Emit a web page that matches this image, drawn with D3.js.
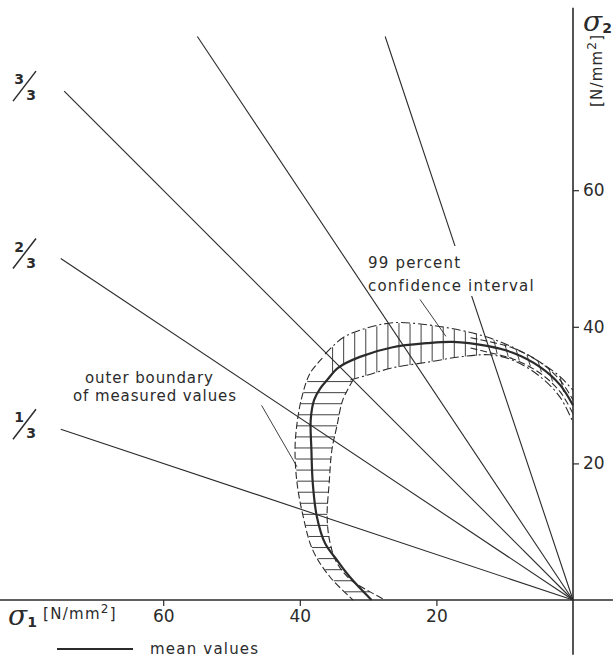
<!DOCTYPE html>
<html><head><meta charset="utf-8">
<script src="https://cdn.jsdelivr.net/npm/d3@7"></script>
<style>
html,body{margin:0;padding:0;background:#fff;}
text{font-family:"DejaVu Sans",sans-serif;fill:#2b2b2b;}
</style></head>
<body>
<svg id="c" width="613" height="661"></svg>
<script>
// ---- data (σ1, σ2 in N/mm²) ----
const rayLabels = ["1/3","2/3","3/3","3/2","3/1"];
const rayEndS1 = [75, 75, 74.5, 55, 27.5];
const rayEndS2 = [25, 50, 74.5, 82.5, 82.5];

const meanS1 = [29.5,32.7,34.6,36.3,37.5,38.1,38.3,38.4,37.9,37.0,36.0,34.4,31.2,26.4,21.4,17.6,12.6,8.8,4.8,1.9,0];
const meanS2 = [0,3.4,5.9,8.3,12.2,17.1,22.0,26.4,29.3,31.0,32.2,34.0,35.6,37.0,37.6,37.8,37.2,36.2,34.1,31.5,28.5];

const ciUpperS1 = [36.3,33.7,31.2,26.4,21.4,16.5,12.6,8.8,4.8,1.9,0];
const ciUpperS2 = [36.0,38.4,39.5,40.6,40.3,39.5,38.5,37.0,34.8,32.7,30.7];
const ciLowerS1 = [32.6,30.2,26.4,21.4,16.5,12.2,8.8,4.8,1.9,0];
const ciLowerS2 = [32.2,32.9,34.0,34.8,35.6,35.9,35.1,32.7,29.7,26.0];

const outerS1 = [36.7,38.5,39.7,40.4,40.7,40.4,39.5,38.1,35.6,32.2];
const outerS2 = [35.4,33.2,29.7,25.9,22.0,17.1,12.2,7.3,3.4,0];
const innerS1 = [32.2,33.7,34.6,35.3,35.7,36.0,35.6,34.6,32.6,29.9,27.5];
const innerS2 = [32.2,29.3,25.3,22.0,17.1,12.2,8.5,5.5,3.0,1.3,0];

const rightUpS1 = [15,12.6,8.8,4.8,1.9,0];
const rightUpS2 = [38.4,37.9,36.9,34.8,32.2,29.3];
const rightLoS1 = [15,12.6,8.8,4.8,1.9,0];
const rightLoS2 = [36.9,36.3,35.3,33.2,30.5,27.3];

const xTicks = [20,40,60];
const yTicks = [20,40,60];

// ---- layout ----
const ox = 573, oy = 600, k = 6.83;
const x = d3.scaleLinear().domain([0,80]).range([ox, ox-80*k]);
const y = d3.scaleLinear().domain([0,80]).range([oy, oy-80*k]);
const ink = "#2b2b2b";
const svg = d3.select("#c");
const zip = (a,b)=>a.map((v,i)=>[v,b[i]]);
const line = d3.line().x(d=>x(d[0])).y(d=>y(d[1])).curve(d3.curveCatmullRom.alpha(0.5));

function interp(keys, vals, k0){
  for(let i=0;i<keys.length-1;i++){
    const a=keys[i], b=keys[i+1];
    if((k0-a)*(k0-b)<=0 && a!==b){ const t=(k0-a)/(b-a); return vals[i]+t*(vals[i+1]-vals[i]); }
  }
  return null;
}

// axes
svg.append("line").attr("x1",x(84.9)).attr("x2",x(-6)).attr("y1",y(0)).attr("y2",y(0))
  .attr("stroke",ink).attr("stroke-width",1.6);
svg.append("line").attr("x1",x(0)).attr("x2",x(0)).attr("y1",y(86.7)).attr("y2",y(-8))
  .attr("stroke",ink).attr("stroke-width",1.6);

const xa = svg.append("g").attr("transform",`translate(0,${y(0)})`)
  .call(d3.axisBottom(x).tickValues(xTicks).tickSize(6).tickPadding(4).tickFormat(d3.format("d")));
xa.select(".domain").remove();
xa.selectAll("line").attr("stroke",ink).attr("stroke-width",1.2);
xa.selectAll("text").attr("font-size",17).attr("fill",ink).attr("font-family","DejaVu Sans");

const ya = svg.append("g").attr("transform",`translate(${x(0)},0)`)
  .call(d3.axisRight(y).tickValues(yTicks).tickSize(6).tickPadding(4).tickFormat(d3.format("d")));
ya.select(".domain").remove();
ya.selectAll("line").attr("stroke",ink).attr("stroke-width",1.2);
ya.selectAll("text").attr("font-size",17).attr("fill",ink).attr("font-family","DejaVu Sans");

// rays
const rays = rayLabels.map((l,i)=>({l, s1:rayEndS1[i], s2:rayEndS2[i]}));
svg.append("g").selectAll("line").data(rays).join("line")
  .attr("x1",x(0)).attr("y1",y(0)).attr("x2",d=>x(d.s1)).attr("y2",d=>y(d.s2))
  .attr("stroke",ink).attr("stroke-width",1.1);

// fraction labels for first three rays
rays.slice(0,3).forEach(d=>{
  const [num,den]=d.l.split("/");
  const cy = y(d.s2)-5;
  svg.append("text").attr("x",19).attr("y",cy-2).attr("text-anchor","middle")
    .attr("font-size",14).attr("font-weight","bold").text(num);
  svg.append("line").attr("x1",13).attr("y1",cy+15).attr("x2",36).attr("y2",cy-15)
    .attr("stroke",ink).attr("stroke-width",1.5);
  svg.append("text").attr("x",31).attr("y",cy+14).attr("text-anchor","middle")
    .attr("font-size",14).attr("font-weight","bold").text(den);
});

// hatching: left band (horizontal)
const hatch = svg.append("g").attr("stroke",ink).attr("stroke-width",0.9);
for(let h=1.2; h<=32.2; h+=1.62){
  const a = interp(outerS2, outerS1, h), b = interp(innerS2, innerS1, h);
  if(a!==null && b!==null) hatch.append("line").attr("x1",x(a)).attr("x2",x(b)).attr("y1",y(h)).attr("y2",y(h));
}
// CI band (vertical)
for(let s=35.2; s>=13; s-=1.62){
  const a = interp(ciUpperS1, ciUpperS2, s);
  let b = interp(ciLowerS1, ciLowerS2, s);
  if(b===null) b = interp(outerS1.slice(0,3), outerS2.slice(0,3), s) ?? interp(meanS1.slice(9,13), meanS2.slice(9,13), s);
  if(a!==null && b!==null) hatch.append("line").attr("x1",x(s)).attr("x2",x(s)).attr("y1",y(a)).attr("y2",y(b));
}
// right band (short)
for(let s=11.6; s>=1; s-=1.62){
  const a = interp(ciUpperS1, ciUpperS2, s), b = interp(rightLoS1, rightLoS2, s);
  if(a!==null && b!==null) hatch.append("line").attr("x1",x(s)).attr("x2",x(s-0.5)).attr("y1",y(a)).attr("y2",y(b));
}

// band boundaries
const dashed = [[outerS1,outerS2],[innerS1,innerS2],[rightUpS1,rightUpS2],[rightLoS1,rightLoS2]];
dashed.forEach(([a,b])=>svg.append("path").attr("d",line(zip(a,b))).attr("fill","none").attr("stroke",ink)
  .attr("stroke-width",1.1).attr("stroke-dasharray","7,3"));
[[ciUpperS1,ciUpperS2],[ciLowerS1,ciLowerS2]].forEach(([a,b])=>svg.append("path").attr("d",line(zip(a,b)))
  .attr("fill","none").attr("stroke",ink).attr("stroke-width",1.1).attr("stroke-dasharray","9,3,2,3"));

// mean curve
svg.append("path").attr("d",line(zip(meanS1,meanS2))).attr("fill","none").attr("stroke",ink)
  .attr("stroke-width",2.2);

// annotation: confidence interval
svg.append("rect").attr("x",372).attr("y",246).attr("width",190).attr("height",50).attr("fill","#fff");
svg.append("text").attr("x",368).attr("y",268).attr("font-size",15).attr("letter-spacing",1.2).text("99 percent");
svg.append("text").attr("x",368).attr("y",291).attr("font-size",15).attr("letter-spacing",1.2).text("confidence interval");
svg.append("line").attr("x1",x(22.4)).attr("y1",y(44.0)).attr("x2",x(18.6)).attr("y2",y(38.6))
  .attr("stroke",ink).attr("stroke-width",0.9);

// annotation: outer boundary
svg.append("text").attr("x",85).attr("y",383).attr("font-size",15).attr("letter-spacing",0.9).text("outer boundary");
svg.append("text").attr("x",73).attr("y",401).attr("font-size",15).attr("letter-spacing",0.9).text("of measured values");
svg.append("line").attr("x1",x(45.6)).attr("y1",y(28.5)).attr("x2",x(40.4)).attr("y2",y(19.5))
  .attr("stroke",ink).attr("stroke-width",0.9);

// axis titles
const t1 = svg.append("text").attr("x",8).attr("y",625);
t1.append("tspan").attr("font-family","DejaVu Serif").attr("font-style","italic").attr("font-size",28).text("σ");
t1.append("tspan").attr("font-size",14).attr("font-weight","bold").attr("dy",2).text("1");
const u1 = svg.append("text").attr("x",43).attr("y",619).attr("font-size",15).attr("letter-spacing",1.3);
u1.append("tspan").text("[N/mm");
u1.append("tspan").attr("dy",-6).attr("font-size",12).text("2");
u1.append("tspan").attr("dy",6).text("]");

const t2 = svg.append("text").attr("x",583).attr("y",31);
t2.append("tspan").attr("font-family","DejaVu Serif").attr("font-style","italic").attr("font-size",28).text("σ");
t2.append("tspan").attr("font-size",14).attr("font-weight","bold").attr("dy",2).text("2");
const u2 = svg.append("text").attr("transform","translate(602,107) rotate(-90)").attr("font-size",15).attr("letter-spacing",1.2);
u2.append("tspan").text("[N/mm");
u2.append("tspan").attr("dy",-6).attr("font-size",12).text("2");
u2.append("tspan").attr("dy",6).text("]");

// legend
svg.append("line").attr("x1",57).attr("x2",133).attr("y1",649).attr("y2",649).attr("stroke",ink).attr("stroke-width",1.8);
svg.append("text").attr("x",150).attr("y",654).attr("font-size",15).attr("letter-spacing",1.2).text("mean values");
</script>
</body></html>
